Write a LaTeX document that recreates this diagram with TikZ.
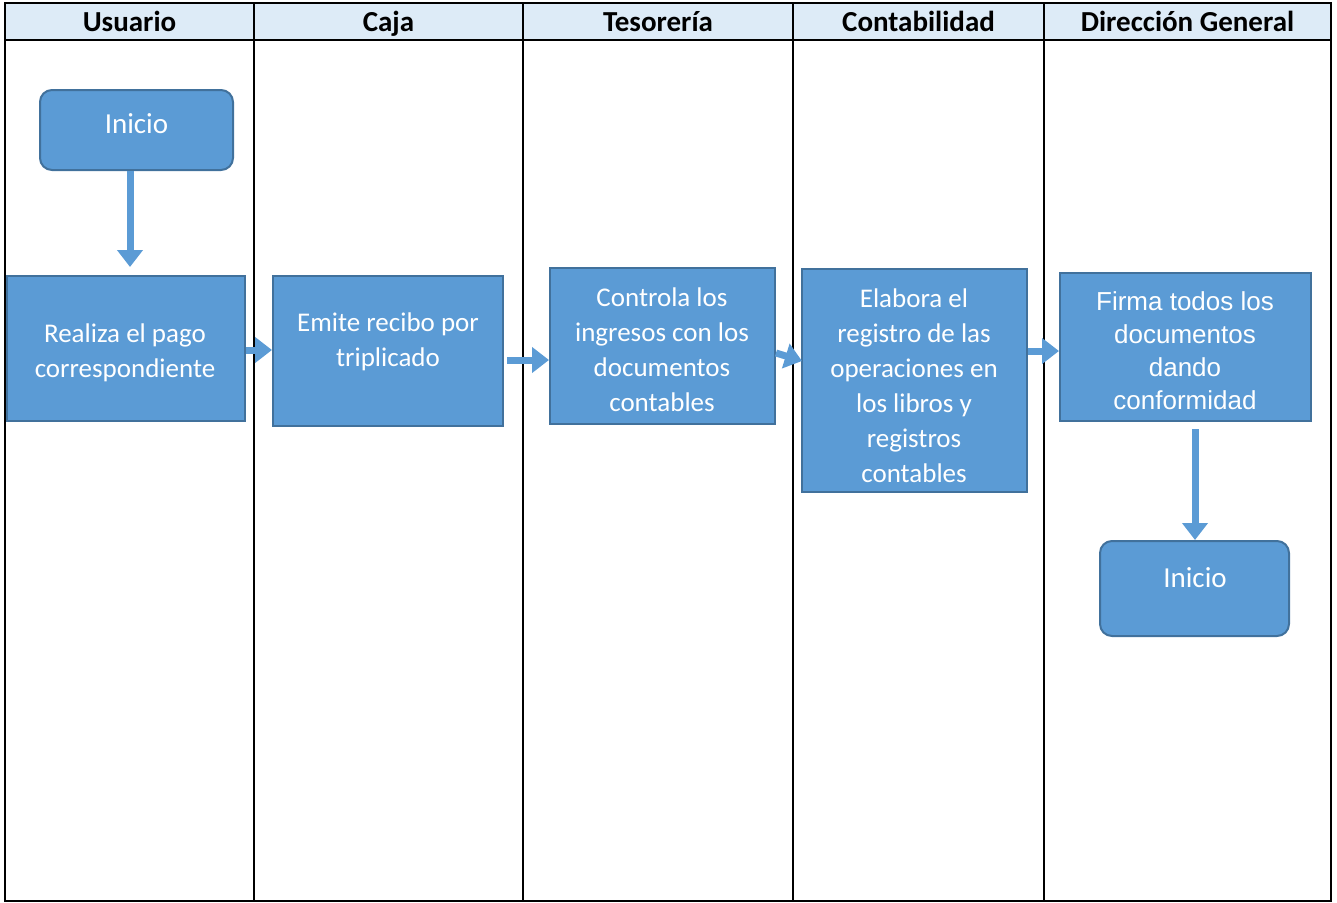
\documentclass[tikz,border=0pt]{standalone}
\usepackage{fontspec}
\setmainfont{Carlito}
\newfontfamily\arialfont{Liberation Sans}
\usetikzlibrary{arrows.meta}
\definecolor{boxfill}{HTML}{5B9BD5}
\definecolor{boxline}{HTML}{41719C}
\definecolor{headfill}{HTML}{DDEBF7}
\begin{document}
\begin{tikzpicture}[x=1pt,y=-1pt,
  box/.style={draw=boxline, line width=2pt, fill=boxfill, inner sep=0pt},
  rbox/.style={box, rounded corners=12pt},
  txt/.style={text=white, align=center, inner sep=0pt, font=\fontsize{27}{35}\selectfont},
  ttl/.style={text=white, align=center, inner sep=0pt, font=\fontsize{29}{35}\selectfont},
  atxt/.style={text=white, align=center, inner sep=0pt, font=\arialfont\fontsize{26}{33}\selectfont},
  flow/.style={draw=boxfill, line width=7pt, -{Triangle[width=25pt,length=17pt]}},
  lanehead/.style={inner sep=0pt, anchor=base, font=\bfseries\fontsize{29}{32}\selectfont}]
\useasboundingbox (0,0) rectangle (1337,902);

% swimlane frame and header row
\fill[headfill] (5,3) rectangle (1331,40);
\draw[line width=2pt] (5,3) rectangle (1331,901);
\draw[line width=2pt] (5,40) -- (1331,40);
\foreach \x in {254,523,793,1044} \draw[line width=2pt] (\x,3) -- (\x,901);
\node[lanehead] (h1) at (129.5,31) {Usuario};
\node[lanehead] (h2) at (388.5,31) {Caja};
\node[lanehead] (h3) at (658,31) {Tesorería};
\node[lanehead] (h4) at (918.5,31) {Contabilidad};
\node[lanehead] (h5) at (1187.5,31) {Dirección General};

% process boxes
\node[rbox, minimum width=193pt, minimum height=80pt] (inicio1) at (136.5,130) {};
\node[ttl] (inicio1t) at (136.5,124) {Inicio};

\node[box, minimum width=238pt, minimum height=145pt] (realiza) at (126,348.5) {};
\node[txt] (realizat) at (125,352.5) {Realiza el pago\\correspondiente};

\node[box, minimum width=230pt, minimum height=150pt] (emite) at (388,351) {};
\node[txt] (emitet) at (388,342) {Emite recibo por\\triplicado};

\node[box, minimum width=225pt, minimum height=156pt] (controla) at (662.5,346) {};
\node[txt] (controlat) at (662,350) {Controla los\\ingresos con los\\documentos\\contables};

\node[box, minimum width=225pt, minimum height=223pt] (elabora) at (914.5,380.5) {};
\node[txt] (elaborat) at (914,386) {Elabora el\\registro de las\\operaciones en\\los libros y\\registros\\contables};

\node[box, minimum width=251pt, minimum height=148pt] (firma) at (1185.5,347) {};
\node[atxt] (firmat) at (1185,350.5) {Firma todos los\\documentos\\dando\\conformidad};

\node[rbox, minimum width=189pt, minimum height=95pt] (inicio2) at (1194.5,588.5) {};
\node[ttl] (inicio2t) at (1195,578) {Inicio};

% flow connectors
\draw[flow] ([xshift=-6.5pt]inicio1.south) -- ([xshift=4pt,yshift=8pt]realiza.north);
\draw[flow] ([yshift=-1.5pt]realiza.east) -- ([yshift=1pt]emite.west);
\draw[flow] ([xshift=3pt,yshift=-9pt]emite.east) -- ([yshift=-14pt]controla.west);
\draw[flow] ([yshift=-7pt]controla.east) -- ([xshift=1pt,yshift=19.5pt]elabora.west);
\draw[flow] ([yshift=29.5pt]elabora.east) -- ([yshift=-4pt]firma.west);
\draw[flow] ([xshift=9.5pt,yshift=-7pt]firma.south) -- ([xshift=0.5pt]inicio2.north);
\end{tikzpicture}
\end{document}
